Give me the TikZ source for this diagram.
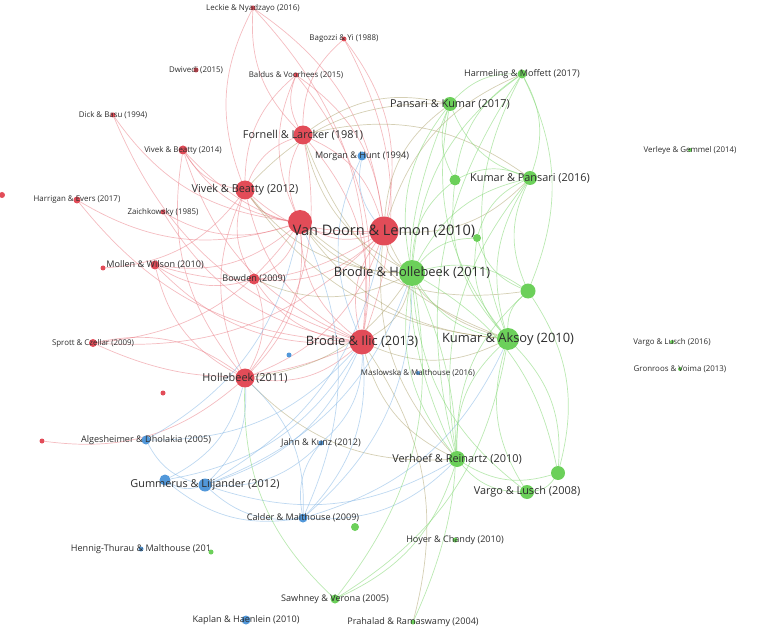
\documentclass[tikz,border=0pt]{standalone}
\usepackage{fontspec}
\setmainfont{Open Sans}
\usetikzlibrary{positioning,backgrounds}
\definecolor{vred}{RGB}{226,76,88}
\definecolor{vgreen}{RGB}{108,208,90}
\definecolor{vblue}{RGB}{82,152,218}
\definecolor{vtext}{RGB}{45,45,45}
\tikzset{rnode/.style={shape=circle, fill=vred, inner sep=0pt}}
\tikzset{gnode/.style={shape=circle, fill=vgreen, inner sep=0pt}}
\tikzset{bnode/.style={shape=circle, fill=vblue, inner sep=0pt}}
\tikzset{lblxs/.style={font=\fontsize{7.9}{8}\selectfont, text=vtext, inner sep=0pt}}
\tikzset{lbls/.style={font=\fontsize{9.1}{10}\selectfont, text=vtext, inner sep=0pt}}
\tikzset{lblm/.style={font=\fontsize{10.9}{12}\selectfont, text=vtext, inner sep=0pt}}
\tikzset{lbll/.style={font=\fontsize{12.9}{14}\selectfont, text=vtext, inner sep=0pt}}
\tikzset{lblxl/.style={font=\fontsize{14.5}{16}\selectfont, text=vtext, inner sep=0pt}}
\tikzset{redge/.style={draw=vred!75, line width=.7pt, opacity=.5, bend right=24}}
\tikzset{gedge/.style={draw=vgreen!85, line width=.7pt, opacity=.55, bend right=24}}
\tikzset{bedge/.style={draw=vblue!75, line width=.7pt, opacity=.5, bend right=24}}
\tikzset{medge/.style={draw=vred!45!vgreen, line width=.7pt, opacity=.45, bend right=24}}

\begin{document}
\begin{tikzpicture}[x=1pt, y=-1pt]
  \useasboundingbox (0,0) rectangle (774,631);

    %%%% Red cluster
    \node[rnode, minimum size=5pt](leckie) at (253,8) [label={[lblxs]center:{Leckie \& Nyadzayo (2016)}}] {};
    \node[rnode, minimum size=5pt](bagozzi) at (344,39) [label={[lblxs]center:{Bagozzi \& Yi (1988)}}] {};
    \node[rnode, minimum size=5pt](dwivedi) at (196,70) [label={[lblxs]center:{Dwivedi (2015)}}] {};
    \node[rnode, minimum size=5pt](baldus) at (296,75) [label={[lblxs]center:{Baldus \& Voorhees (2015)}}] {};
    \node[rnode, minimum size=5pt](dick) at (113,115) [label={[lblxs]center:{Dick \& Basu (1994)}}] {};
    \node[rnode, minimum size=19pt](fornell) at (303,135) [label={[lblm]center:{Fornell \& Larcker (1981)}}] {};
    \node[rnode, minimum size=9pt](vivekb) at (183,150) [label={[lblxs]center:{Vivek \& Beatty (2014)}}] {};
    \node[rnode, minimum size=19pt](vivek) at (245,190) [label={[lblm]center:{Vivek \& Beatty (2012)}}] {};
    \node[rnode, minimum size=7pt](harrigan) at (77,200) [label={[lblxs]center:{Harrigan \& Evers (2017)}}] {};
    \node[rnode, minimum size=6pt](redL) at (2,195) {};
    \node[rnode, minimum size=5pt](zaich) at (163,212) [label={[lblxs]center:{Zaichkowsky (1985)}}] {};
    \node[rnode, minimum size=24pt](vandoornA) at (300,222) {};
    \node[rnode, minimum size=29pt](vandoorn) at (384,231) [label={[lblxl]center:{Van Doorn \& Lemon (2010)}}] {};
    \node[rnode, minimum size=9pt](mollen) at (155,265) [label={[lbls]center:{Mollen \& Wilson (2010)}}] {};
    \node[rnode, minimum size=5pt](redM) at (103,268) {};
    \node[rnode, minimum size=11pt](bowden) at (254,279) [label={[lbls]center:{Bowden (2009)}}] {};
    \node[rnode, minimum size=8pt](sprott) at (93,343) [label={[lblxs]center:{Sprott \& Czellar (2009)}}] {};
    \node[rnode, minimum size=25pt](brodieilic) at (362,342) [label={[lbll]center:{Brodie \& Ilic (2013)}}] {};
    \node[rnode, minimum size=19pt](hollebeek) at (245,378) [label={[lblm]center:{Hollebeek (2011)}}] {};
    \node[rnode, minimum size=5pt](redH) at (163,393) {};
    \node[rnode, minimum size=5pt](redA) at (42,441) {};

    %%%% Blue cluster
    \node[bnode, minimum size=9pt](morgan) at (362,156) [label={[lbls]center:{Morgan \& Hunt (1994)}}] {};
    \node[bnode, minimum size=5pt](blueD) at (289,355) {};
    \node[bnode, minimum size=4pt](maslowska) at (418,373) [label={[lblxs]center:{Maslowska \& Malthouse (2016)}}] {};
    \node[bnode, minimum size=9pt](alges) at (146,440) [label={[lbls]center:{Algesheimer \& Dholakia (2005)}}] {};
    \node[bnode, minimum size=11pt](gummA) at (165,480) {};
    \node[bnode, minimum size=13pt](gumm) at (205,485) [label={[lblm]center:{Gummerus \& Liljander (2012)}}] {};
    \node[bnode, minimum size=5pt](jahn) at (321,443) [label={[lbls]center:{Jahn \& Kunz (2012)}}] {};
    \node[bnode, minimum size=9pt](calder) at (303,518) [label={[lbls]center:{Calder \& Malthouse (2009)}}] {};
    \node[bnode, minimum size=5pt](hennig) at (141,549) [label={[lbls]center:{Hennig-Thurau \& Malthouse (201}}] {};
    \node[bnode, minimum size=9pt](kaplan) at (246,620) [label={[lbls]center:{Kaplan \& Haenlein (2010)}}] {};

    %%%% Green cluster
    \node[gnode, minimum size=9pt](harmeling) at (522,74) [label={[lbls]center:{Harmeling \& Moffett (2017)}}] {};
    \node[gnode, minimum size=14pt](pansari) at (450,104) [label={[lblm]center:{Pansari \& Kumar (2017)}}] {};
    \node[gnode, minimum size=4pt](verleye) at (690,150) [label={[lblxs]center:{Verleye \& Gemmel (2014)}}] {};
    \node[gnode, minimum size=11pt](greenA) at (455,180) {};
    \node[gnode, minimum size=14pt](kumarp) at (530,178) [label={[lblm]center:{Kumar \& Pansari (2016)}}] {};
    \node[gnode, minimum size=8pt](greenB) at (477,238) {};
    \node[gnode, minimum size=26pt](brodieh) at (412,273) [label={[lbll]center:{Brodie \& Hollebeek (2011)}}] {};
    \node[gnode, minimum size=15pt](greenC) at (528,291) {};
    \node[gnode, minimum size=22pt](kumara) at (508,339) [label={[lbll]center:{Kumar \& Aksoy (2010)}}] {};
    \node[gnode, minimum size=4pt](vargoA) at (672,342) [label={[lblxs]center:{Vargo \& Lusch (2016)}}] {};
    \node[gnode, minimum size=4pt](gronroos) at (680,369) [label={[lblxs]center:{Gronroos \& Voima (2013)}}] {};
    \node[gnode, minimum size=16pt](verhoef) at (457,459) [label={[lblm]center:{Verhoef \& Reinartz (2010)}}] {};
    \node[gnode, minimum size=14pt](greenD) at (558,473) {};
    \node[gnode, minimum size=14pt](vargoB) at (527,492) [label={[lblm]center:{Vargo \& Lusch (2008)}}] {};
    \node[gnode, minimum size=5pt](hoyer) at (455,540) [label={[lbls]center:{Hoyer \& Chandy (2010)}}] {};
    \node[gnode, minimum size=8pt](greenE) at (355,527) {};
    \node[gnode, minimum size=5pt](greenF) at (211,552) {};
    \node[gnode, minimum size=9pt](sawhney) at (335,599) [label={[lbls]center:{Sawhney \& Verona (2005)}}] {};
    \node[gnode, minimum size=5pt](prahalad) at (413,622) [label={[lbls]center:{Prahalad \& Ramaswamy (2004)}}] {};

  \begin{scope}[on background layer]
    %%%% Red links
    \draw [redge] (leckie) to (fornell);
    \draw [redge] (vandoorn) to (leckie);
    \draw [redge] (leckie) to (vivek);
    \draw [redge] (brodieilic) to (leckie);
    \draw [redge] (bagozzi) to (fornell);
    \draw [redge] (vandoorn) to (bagozzi);
    \draw [redge] (brodieilic) to (bagozzi);
    \draw [redge] (baldus) to (fornell);
    \draw [redge] (baldus) to (vivek);
    \draw [redge] (baldus) to (vandoornA);
    \draw [redge] (vandoorn) to (baldus);
    \draw [redge] (brodieilic) to (baldus);
    \draw [redge] (dick) to (vandoornA);
    \draw [redge] (dick) to (brodieilic);
    \draw [redge] (vivekb) to (vivek);
    \draw [redge] (vivekb) to (vandoornA);
    \draw [redge] (vivekb) to (vandoorn);
    \draw [redge] (vivekb) to (brodieilic);
    \draw [redge] (vivekb) to (hollebeek);
    \draw [redge] (fornell) to (vivek);
    \draw [redge] (fornell) to (vandoornA);
    \draw [redge] (vandoorn) to (fornell);
    \draw [redge] (brodieilic) to (fornell);
    \draw [redge] (hollebeek) to (fornell);
    \draw [redge] (vivek) to (vandoornA);
    \draw [redge] (vivek) to (vandoorn);
    \draw [redge] (vivek) to (brodieilic);
    \draw [redge] (vivek) to (hollebeek);
    \draw [redge] (vivek) to (bowden);
    \draw [redge] (harrigan) to (vandoornA);
    \draw [redge] (harrigan) to (brodieilic);
    \draw [redge] (zaich) to (vandoornA);
    \draw [redge] (zaich) to (brodieilic);
    \draw [redge] (mollen) to (vandoornA);
    \draw [redge] (mollen) to (vandoorn);
    \draw [redge] (mollen) to (brodieilic);
    \draw [redge] (mollen) to (hollebeek);
    \draw [redge] (mollen) to (bowden);
    \draw [redge] (redM) to (vivek);
    \draw [redge] (bowden) to (vandoornA);
    \draw [redge] (bowden) to (vandoorn);
    \draw [redge] (bowden) to (brodieilic);
    \draw [redge] (hollebeek) to (bowden);
    \draw [redge] (sprott) to (vandoornA);
    \draw [redge] (sprott) to (vandoorn);
    \draw [redge] (sprott) to (brodieilic);
    \draw [redge] (hollebeek) to (sprott);
    \draw [redge] (vandoornA) to (vandoorn);
    \draw [redge] (vandoornA) to (brodieilic);
    \draw [redge] (hollebeek) to (vandoornA);
    \draw [redge] (vandoorn) to (brodieilic);
    \draw [redge] (hollebeek) to (vandoorn);
    \draw [redge] (hollebeek) to (brodieilic);
    \draw [redge] (redA) to (hollebeek);

    %%%% Mixed links
    \draw [medge] (fornell) to (brodieh);
    \draw [medge] (fornell) to (kumara);
    \draw [medge] (vivek) to (brodieh);
    \draw [medge] (vivek) to (kumara);
    \draw [medge] (vandoornA) to (brodieh);
    \draw [medge] (vandoornA) to (kumara);
    \draw [medge] (vandoornA) to (greenC);
    \draw [medge] (vandoorn) to (brodieh);
    \draw [medge] (vandoorn) to (kumara);
    \draw [medge] (pansari) to (vandoorn);
    \draw [medge] (harmeling) to (vandoorn);
    \draw [medge] (vandoorn) to (kumarp);
    \draw [medge] (vandoorn) to (verhoef);
    \draw [medge] (brodieilic) to (brodieh);
    \draw [medge] (brodieilic) to (kumara);
    \draw [medge] (brodieilic) to (verhoef);
    \draw [medge] (hollebeek) to (brodieh);
    \draw [medge] (hollebeek) to (verhoef);
    \draw [medge] (bowden) to (brodieh);
    \draw [medge] (pansari) to (fornell);
    \draw [medge] (pansari) to (vivek);
    \draw [medge] (kumarp) to (fornell);
    \draw [medge] (prahalad) to (brodieilic);

    %%%% Blue links
    \draw [bedge] (morgan) to (vandoorn);
    \draw [bedge] (morgan) to (brodieilic);
    \draw [bedge] (alges) to (gumm);
    \draw [bedge] (alges) to (vandoornA);
    \draw [bedge] (alges) to (brodieilic);
    \draw [bedge] (gummA) to (gumm);
    \draw [bedge] (gummA) to (brodieilic);
    \draw [bedge] (gummA) to (hollebeek);
    \draw [bedge] (gummA) to (calder);
    \draw [bedge] (gumm) to (calder);
    \draw [bedge] (gumm) to (jahn);
    \draw [bedge] (gumm) to (brodieilic);
    \draw [bedge] (gumm) to (vandoorn);
    \draw [bedge] (gumm) to (hollebeek);
    \draw [bedge] (gumm) to (brodieh);
    \draw [bedge] (gumm) to (verhoef);
    \draw [bedge] (jahn) to (calder);
    \draw [bedge] (jahn) to (brodieilic);
    \draw [bedge] (calder) to (brodieilic);
    \draw [bedge] (calder) to (vandoornA);
    \draw [bedge] (calder) to (hollebeek);
    \draw [bedge] (calder) to (brodieh);
    \draw [bedge] (calder) to (kumara);
    \draw [bedge] (calder) to (verhoef);

    %%%% Green links
    \draw [gedge] (harmeling) to (pansari);
    \draw [gedge] (kumarp) to (harmeling);
    \draw [gedge] (harmeling) to (brodieh);
    \draw [gedge] (harmeling) to (kumara);
    \draw [gedge] (harmeling) to (greenA);
    \draw [gedge] (greenC) to (harmeling);
    \draw [gedge] (harmeling) to (verhoef);
    \draw [gedge] (pansari) to (kumarp);
    \draw [gedge] (pansari) to (greenA);
    \draw [gedge] (pansari) to (brodieh);
    \draw [gedge] (pansari) to (kumara);
    \draw [gedge] (pansari) to (verhoef);
    \draw [gedge] (greenA) to (brodieh);
    \draw [gedge] (greenA) to (kumara);
    \draw [gedge] (kumarp) to (greenA);
    \draw [gedge] (kumarp) to (brodieh);
    \draw [gedge] (kumarp) to (kumara);
    \draw [gedge] (kumarp) to (greenC);
    \draw [gedge] (kumarp) to (verhoef);
    \draw [gedge] (kumarp) to (greenB);
    \draw [gedge] (greenB) to (brodieh);
    \draw [gedge] (greenB) to (kumara);
    \draw [gedge] (greenB) to (greenC);
    \draw [gedge] (brodieh) to (kumara);
    \draw [gedge] (brodieh) to (verhoef);
    \draw [gedge] (greenC) to (brodieh);
    \draw [gedge] (brodieh) to (vargoB);
    \draw [gedge] (greenD) to (brodieh);
    \draw [gedge] (greenC) to (kumara);
    \draw [gedge] (greenC) to (verhoef);
    \draw [gedge] (greenD) to (greenC);
    \draw [gedge] (kumara) to (verhoef);
    \draw [gedge] (kumara) to (vargoB);
    \draw [gedge] (greenD) to (kumara);
    \draw [gedge] (verhoef) to (vargoB);
    \draw [gedge] (verhoef) to (greenD);
    \draw [gedge] (vargoB) to (greenD);
    \draw [gedge] (sawhney) to (brodieh);
    \draw [gedge] (sawhney) to (kumara);
    \draw [gedge] (sawhney) to (verhoef);
    \draw [gedge] (hollebeek) to (sawhney);
    \draw [gedge] (prahalad) to (brodieh);
  \end{scope}

  \end{tikzpicture}
\end{document}
